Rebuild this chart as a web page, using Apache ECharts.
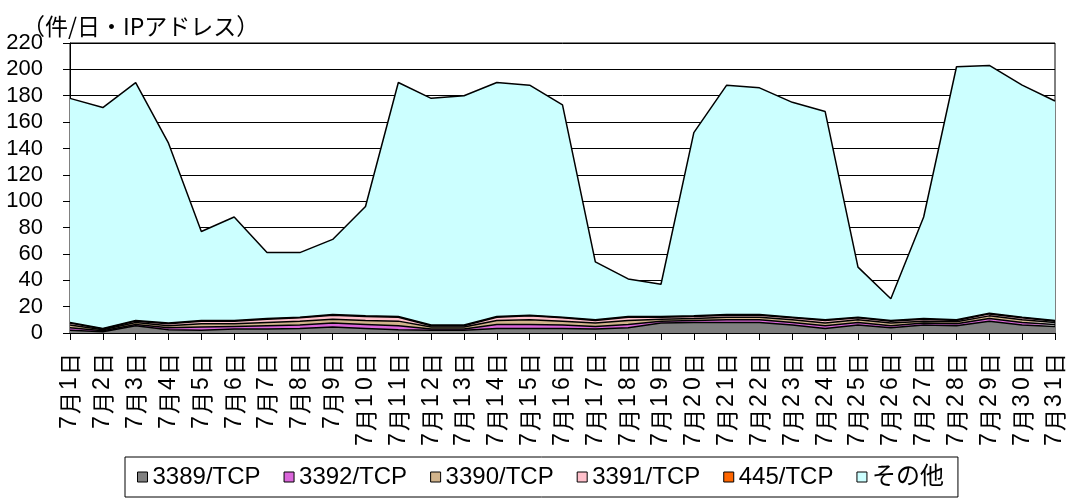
<!DOCTYPE html>
<html>
<head>
<meta charset="utf-8">
<script src="https://cdn.jsdelivr.net/npm/echarts@6/dist/echarts.min.js"></script>
<style>
html,body{margin:0;padding:0;background:#fff;}
#chart{width:1072px;height:500px;}
</style>
</head>
<body>
<div id="chart"></div>
<script>
const days = ['7月1日','7月2日','7月3日','7月4日','7月5日','7月6日','7月7日','7月8日','7月9日','7月10日','7月11日','7月12日','7月13日','7月14日','7月15日','7月16日','7月17日','7月18日','7月19日','7月20日','7月21日','7月22日','7月23日','7月24日','7月25日','7月26日','7月27日','7月28日','7月29日','7月30日','7月31日'];
const seriesNames = ['3389/TCP','3392/TCP','3390/TCP','3391/TCP','445/TCP','その他'];
const s3389 = [2,1,5.5,2.5,2,3,3,3.5,4.5,3.5,2.5,2,2,3.5,3.5,3.5,3,4,7.5,8,8,8,6,3.5,6,4,6,5.5,9,6,5];
const s3392 = [2,0.7,1,1.5,2.5,2,2.5,2.5,3,3,3,1,1,3,3,2.5,2,2.5,1.5,1.5,2,2,2,2,2,1.5,1.5,1.5,2,2,1.5];
const s3390 = [2,0.7,1.5,1.5,2.5,2,2.5,3,3,3,3.5,1.5,1.5,3,3.5,3,2.5,3,1.5,1.5,2,2,2,2,2,2,1.5,1.5,2,2,1.5];
const s3391 = [1.5,0.6,1,1.5,2,2,2.5,2.5,3,3,3,1,1,2.5,3,2.5,2,2.5,1.5,1.5,1.5,1.5,1.5,2,1.5,1.5,1.5,1,1.5,1.5,1];
const s445  = [0.5,0.5,0.5,0.5,0.5,0.5,0.5,0.5,0.5,0.5,0.5,0.5,0.5,0.5,0.5,0.5,0.5,0.5,0.5,0.5,0.5,0.5,0.5,0.5,0.5,0.5,0.5,0.5,0.5,0.5,0.5];
const sOther = [170,167.5,180.5,136.5,67.5,78.5,50,49,57,83,177.5,172,174,177.5,174.5,161,44,28.5,24.5,139,174,172,163,158,38,16.5,77,192,188,176,166.5];
const yTicks = {min:0, max:220, interval:20};
const unitLabel = '（件/日・IPアドレス）';

const colors = ['#808080','#DA66DA','#D2B48C','#FFC0CB','#FF6600','#CCFFFF'];
const values = [s3389,s3392,s3390,s3391,s445,sOther];
const NUMFONT = "'Liberation Sans','Noto Sans CJK JP',sans-serif";
const CJKFONT = "'Noto Sans CJK JP',sans-serif";

const chart = echarts.init(document.getElementById('chart'), null, {renderer:'canvas'});
chart.setOption({
  animation:false,
  backgroundColor:'#fff',
  title:{text:unitLabel,left:17,top:10,textStyle:{fontSize:23,fontWeight:'normal',color:'#000',fontFamily:CJKFONT}},
  grid:{left:70,right:17,top:43,bottom:167,containLabel:false,show:true,borderColor:'#000',borderWidth:1},
  legend:{
    bottom:3,left:125,
    data:seriesNames.map((n,i)=>({
      name:n,
      itemStyle:{color:colors[i],borderColor:'#000',borderWidth:1},
      textStyle: i<5 ? {width:118} : {}
    })),
    icon:'rect',itemWidth:10,itemHeight:10,itemGap:23,
    borderColor:'#000',borderWidth:1,padding:[8,14,8,12],
    textStyle:{fontSize:24,color:'#000',fontFamily:NUMFONT}
  },
  xAxis:{
    type:'category',data:days,boundaryGap:false,
    axisLine:{lineStyle:{color:'#000',width:1}},
    axisTick:{show:true,interval:0,length:7,lineStyle:{color:'#000'}},
    axisLabel:{
      interval:0,rotate:90,fontSize:22,color:'#000',fontFamily:CJKFONT,margin:20,
      formatter:v=>v.replace(/\d/g,c=>'{d|'+c+'}'),
      rich:{d:{fontSize:23,fontFamily:NUMFONT,width:17,align:'center',color:'#000'}}
    },
    splitLine:{show:false}
  },
  yAxis:{
    type:'value',min:yTicks.min,max:yTicks.max,interval:yTicks.interval,
    axisLine:{show:true,lineStyle:{color:'#000',width:1}},
    axisTick:{show:true,length:7,lineStyle:{color:'#000'}},
    axisLabel:{fontSize:22,color:'#000',fontFamily:NUMFONT,margin:27},
    splitLine:{show:true,lineStyle:{color:'#000',width:1}}
  },
  series:seriesNames.map((n,i)=>({
    name:n,type:'line',stack:'total',data:values[i],
    symbol:'none',smooth:false,
    lineStyle:{color:'#000',width:1.5},
    itemStyle:{color:colors[i]},
    areaStyle:{color:colors[i],opacity:1},
    emphasis:{disabled:true}
  }))
});
</script>
</body>
</html>
